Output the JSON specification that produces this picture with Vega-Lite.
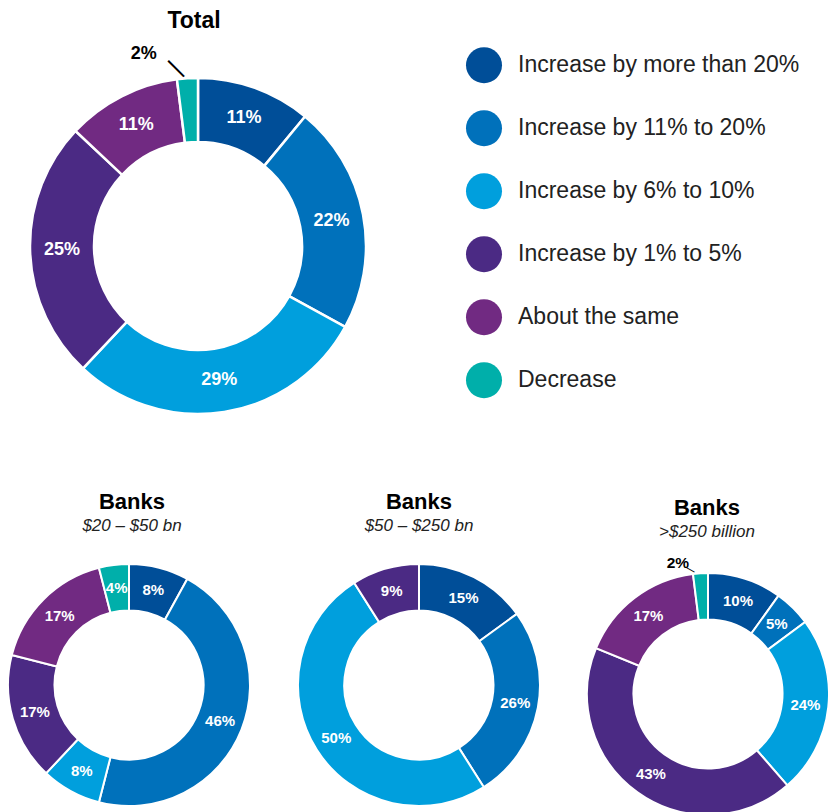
{
  "$schema": "https://vega.github.io/schema/vega-lite/v6.json",
  "autosize": {"type": "pad"},
  "padding": {"left": 4, "top": 10, "right": 0, "bottom": 0},
  "background": "white",
  "data": {"values": [
    {"g": "Total", "k": 1, "cat": "Increase by more than 20%", "v": 11, "lab": "11%"},
    {"g": "Total", "k": 2, "cat": "Increase by 11% to 20%", "v": 22, "lab": "22%"},
    {"g": "Total", "k": 3, "cat": "Increase by 6% to 10%", "v": 29, "lab": "29%"},
    {"g": "Total", "k": 4, "cat": "Increase by 1% to 5%", "v": 25, "lab": "25%"},
    {"g": "Total", "k": 5, "cat": "About the same", "v": 11, "lab": "11%"},
    {"g": "Total", "k": 6, "cat": "Decrease", "v": 2, "lab": "2%"},
    {"g": "B1", "k": 1, "cat": "Increase by more than 20%", "v": 8, "lab": "8%"},
    {"g": "B1", "k": 2, "cat": "Increase by 11% to 20%", "v": 46, "lab": "46%"},
    {"g": "B1", "k": 3, "cat": "Increase by 6% to 10%", "v": 8, "lab": "8%"},
    {"g": "B1", "k": 4, "cat": "Increase by 1% to 5%", "v": 17, "lab": "17%"},
    {"g": "B1", "k": 5, "cat": "About the same", "v": 17, "lab": "17%"},
    {"g": "B1", "k": 6, "cat": "Decrease", "v": 4, "lab": "4%"},
    {"g": "B2", "k": 1, "cat": "Increase by more than 20%", "v": 15, "lab": "15%"},
    {"g": "B2", "k": 2, "cat": "Increase by 11% to 20%", "v": 26, "lab": "26%"},
    {"g": "B2", "k": 3, "cat": "Increase by 6% to 10%", "v": 50, "lab": "50%"},
    {"g": "B2", "k": 4, "cat": "Increase by 1% to 5%", "v": 9, "lab": "9%"},
    {"g": "B3", "k": 1, "cat": "Increase by more than 20%", "v": 10, "lab": "10%"},
    {"g": "B3", "k": 2, "cat": "Increase by 11% to 20%", "v": 5, "lab": "5%"},
    {"g": "B3", "k": 3, "cat": "Increase by 6% to 10%", "v": 24, "lab": "24%"},
    {"g": "B3", "k": 4, "cat": "Increase by 1% to 5%", "v": 43, "lab": "43%"},
    {"g": "B3", "k": 5, "cat": "About the same", "v": 17, "lab": "17%"},
    {"g": "B3", "k": 6, "cat": "Decrease", "v": 2, "lab": "2%"}
  ]},
  "config": {
    "view": {"stroke": null},
    "title": {"font": "Liberation Sans", "fontWeight": "bold", "color": "#000000", "subtitleFont": "Liberation Sans", "subtitleFontStyle": "italic", "subtitleColor": "#222222", "frame": "group", "anchor": "middle"},
    "text": {"font": "Liberation Sans", "fontWeight": "bold"}
  },
  "spacing": 128,
  "bounds": "flush",
  "vconcat": [
    {
      "width": 380, "height": 380,
      "title": {"text": "Total", "fontSize": 23, "offset": 11.5, "dx": -4, "frame": "group"},
      "transform": [{"filter": "datum.g === 'Total'"}],
      "encoding": {
        "theta": {"field": "v", "type": "quantitative", "stack": true},
        "order": {"field": "k", "type": "quantitative"}
      },
      "layer": [
        {"mark": {"type": "arc", "outerRadius": 168, "innerRadius": 104, "stroke": "white", "strokeWidth": 2.5},
         "encoding": {"color": {"field": "cat", "type": "nominal",
           "scale": {"domain": ["Increase by more than 20%", "Increase by 11% to 20%", "Increase by 6% to 10%", "Increase by 1% to 5%", "About the same", "Decrease"], "range": ["#004E98", "#0071BB", "#009FDD", "#4B2A84", "#712A82", "#00AFAA"]},
           "legend": {"title": null, "orient": "none", "legendX": 458, "legendY": -8.8, "symbolType": "circle", "symbolSize": 1296, "symbolStrokeWidth": 0, "symbolOpacity": 1, "labelFontSize": 23, "labelFont": "Liberation Sans", "labelColor": "#222222", "labelOffset": 16, "rowPadding": 27, "labelLimit": 400, "padding": 0}}}},
        {"mark": {"type": "text", "radius": 136, "fontSize": 18, "fill": "white"},
         "encoding": {"detail": {"field": "cat"}, "text": {"condition": {"test": "datum.v >= 4", "field": "lab"}, "value": ""}}},
        {"transform": [{"stack": "v", "groupby": ["g"], "sort": [{"field": "k", "order": "ascending"}], "as": ["s0", "s1"]}, {"filter": "datum.v < 4"}],
         "mark": {"type": "text", "radius": 194, "dx": -30, "fontSize": 18, "fill": "black"},
         "encoding": {"theta": {"field": "s0", "type": "quantitative", "stack": null}, "text": {"field": "lab"}}},
        {"transform": [{"stack": "v", "groupby": ["g"], "sort": [{"field": "k", "order": "ascending"}], "as": ["s0", "s1"]}, {"filter": "datum.v < 4"}],
         "mark": {"type": "text", "radius": 179.4, "angle": -45, "fontSize": 24, "fontWeight": "normal", "fill": "black", "text": "|"},
         "encoding": {"theta": {"field": "s0", "type": "quantitative", "stack": null}}}
      ]
    },
    {
      "spacing": 47,
      "bounds": "flush",
      "hconcat": [
        {
          "width": 242, "height": 242,
          "title": {"text": "Banks", "subtitle": "$20 – $50 bn", "fontSize": 22, "subtitleFontSize": 17, "subtitlePadding": 4, "offset": 25.5, "dx": 3, "frame": "group"},
          "transform": [{"filter": "datum.g === 'B1'"}],
          "encoding": {
            "theta": {"field": "v", "type": "quantitative", "stack": true},
            "order": {"field": "k", "type": "quantitative"}
          },
          "layer": [
            {"mark": {"type": "arc", "outerRadius": 121, "innerRadius": 74.5, "stroke": "white", "strokeWidth": 2},
             "encoding": {"color": {"field": "cat", "type": "nominal",
               "scale": {"domain": ["Increase by more than 20%", "Increase by 11% to 20%", "Increase by 6% to 10%", "Increase by 1% to 5%", "About the same", "Decrease"], "range": ["#004E98", "#0071BB", "#009FDD", "#4B2A84", "#712A82", "#00AFAA"]},
               "legend": {"title": null, "orient": "none", "legendX": 458, "legendY": -8.8, "symbolType": "circle", "symbolSize": 1296, "symbolStrokeWidth": 0, "symbolOpacity": 1, "labelFontSize": 23, "labelFont": "Liberation Sans", "labelColor": "#222222", "labelOffset": 16, "rowPadding": 27, "labelLimit": 400, "padding": 0}}}},
            {"mark": {"type": "text", "radius": 98, "fontSize": 15, "fill": "white"},
             "encoding": {"detail": {"field": "cat"}, "text": {"field": "lab"}}}
          ]
        },
        {
          "width": 244, "height": 242,
          "title": {"text": "Banks", "subtitle": "$50 – $250 bn", "fontSize": 22, "subtitleFontSize": 17, "subtitlePadding": 4, "offset": 25.5, "frame": "group"},
          "transform": [{"filter": "datum.g === 'B2'"}],
          "encoding": {
            "theta": {"field": "v", "type": "quantitative", "stack": true},
            "order": {"field": "k", "type": "quantitative"}
          },
          "layer": [
            {"mark": {"type": "arc", "outerRadius": 121, "innerRadius": 74.5, "stroke": "white", "strokeWidth": 2},
             "encoding": {"color": {"field": "cat", "type": "nominal",
               "scale": {"domain": ["Increase by more than 20%", "Increase by 11% to 20%", "Increase by 6% to 10%", "Increase by 1% to 5%", "About the same", "Decrease"], "range": ["#004E98", "#0071BB", "#009FDD", "#4B2A84", "#712A82", "#00AFAA"]},
               "legend": {"title": null, "orient": "none", "legendX": 458, "legendY": -8.8, "symbolType": "circle", "symbolSize": 1296, "symbolStrokeWidth": 0, "symbolOpacity": 1, "labelFontSize": 23, "labelFont": "Liberation Sans", "labelColor": "#222222", "labelOffset": 16, "rowPadding": 27, "labelLimit": 400, "padding": 0}}}},
            {"mark": {"type": "text", "radius": 98, "fontSize": 15, "fill": "white"},
             "encoding": {"detail": {"field": "cat"}, "text": {"field": "lab"}}}
          ]
        },
        {
          "width": 240, "height": 260,
          "title": {"text": "Banks", "subtitle": ">$250 billion", "fontSize": 22, "subtitleFontSize": 17, "subtitlePadding": 4, "offset": 15.5, "dx": -1, "frame": "group"},
          "transform": [{"filter": "datum.g === 'B3'"}],
          "encoding": {
            "theta": {"field": "v", "type": "quantitative", "stack": true},
            "order": {"field": "k", "type": "quantitative"}
          },
          "layer": [
            {"mark": {"type": "arc", "outerRadius": 121, "innerRadius": 74.5, "stroke": "white", "strokeWidth": 2},
             "encoding": {"color": {"field": "cat", "type": "nominal",
               "scale": {"domain": ["Increase by more than 20%", "Increase by 11% to 20%", "Increase by 6% to 10%", "Increase by 1% to 5%", "About the same", "Decrease"], "range": ["#004E98", "#0071BB", "#009FDD", "#4B2A84", "#712A82", "#00AFAA"]},
               "legend": {"title": null, "orient": "none", "legendX": 458, "legendY": -8.8, "symbolType": "circle", "symbolSize": 1296, "symbolStrokeWidth": 0, "symbolOpacity": 1, "labelFontSize": 23, "labelFont": "Liberation Sans", "labelColor": "#222222", "labelOffset": 16, "rowPadding": 27, "labelLimit": 400, "padding": 0}}}},
            {"mark": {"type": "text", "radius": 98, "fontSize": 15, "fill": "white"},
             "encoding": {"detail": {"field": "cat"}, "text": {"condition": {"test": "datum.v >= 4", "field": "lab"}, "value": ""}}},
            {"transform": [{"stack": "v", "groupby": ["g"], "sort": [{"field": "k", "order": "ascending"}], "as": ["s0", "s1"]}, {"filter": "datum.v < 4"}],
             "mark": {"type": "text", "radius": 132, "dx": -13.7, "fontSize": 15.5, "fill": "black"},
             "encoding": {"theta": {"field": "s0", "type": "quantitative", "stack": null}, "text": {"field": "lab"}}},
            {"transform": [{"stack": "v", "groupby": ["g"], "sort": [{"field": "k", "order": "ascending"}], "as": ["s0", "s1"]}, {"filter": "datum.v < 4"}],
             "mark": {"type": "text", "radius": 125.5, "angle": -60, "dx": -1.25, "dy": -2.2, "fontSize": 11, "fontWeight": "normal", "fill": "black", "text": "|"},
             "encoding": {"theta": {"field": "s0", "type": "quantitative", "stack": null}}}
          ]
        }
      ]
    }
  ]
}
